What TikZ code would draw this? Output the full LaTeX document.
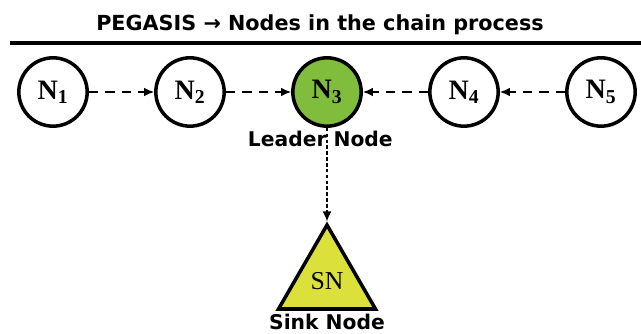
\documentclass[tikz,border=0pt]{standalone}
\usepackage{fontspec}
\setmainfont{Liberation Serif}
\setsansfont{DejaVu Sans}
\usetikzlibrary{positioning,shapes.geometric,arrows.meta}
\definecolor{leadgreen}{RGB}{128,189,60}
\definecolor{sinkyellow}{RGB}{220,224,58}

\begin{document}
\begin{tikzpicture}[main/.style = {draw, circle, line width=3pt, minimum size=2.05cm, inner sep=0pt, font=\fontsize{24}{24}\selectfont\bfseries},
                    sink/.style = {draw, regular polygon, regular polygon sides=3, line width=3pt, fill=sinkyellow, minimum size=3.36cm, inner sep=0pt, font=\fontsize{22}{22}\selectfont},
                    caption/.style = {font=\sffamily\bfseries\fontsize{17.3}{17.3}\selectfont, inner sep=1pt},
                    link/.style = {-{Latex[length=3mm,width=2.6mm]}, line width=1.2pt, dash pattern=on 8pt off 6pt},
                    node distance=4.11cm]
    \useasboundingbox (0,0) rectangle (19.23,9.99);
    \node[caption, font=\sffamily\bfseries\fontsize{17.7}{17.7}\selectfont] (title) at (9.6,9.24) {PEGASIS → Nodes in the chain process};
    \draw[line width=3pt] (0.3,8.7) -- (19.23,8.7);

    \node[main] (1) at (1.59,7.23) {N\textsubscript{1}};
    \node[main] (2) [right of=1] {N\textsubscript{2}};
    \node[main, fill=leadgreen] (3) [right of=2] {N\textsubscript{3}};
    \node[main] (4) [right of=3] {N\textsubscript{4}};
    \node[main] (5) [right of=4] {N\textsubscript{5}};
    \node[caption] (leader) [below=0.05cm of 3, xshift=-0.2cm] {Leader Node};

    \node[sink] (sn) [below of=3, node distance=5.67cm] {SN};
    \node[caption] (sinklbl) [below=0.05cm of sn.south] {Sink Node};

    \draw[link] (1) -- (2);
    \draw[link] (2) -- (3);
    \draw[link] (4) -- (3);
    \draw[link] (5) -- (4);
    \draw[link, line width=1pt, dash pattern=on 3pt off 2pt] (3) -- (sn.corner 1);
\end{tikzpicture}
\end{document}
